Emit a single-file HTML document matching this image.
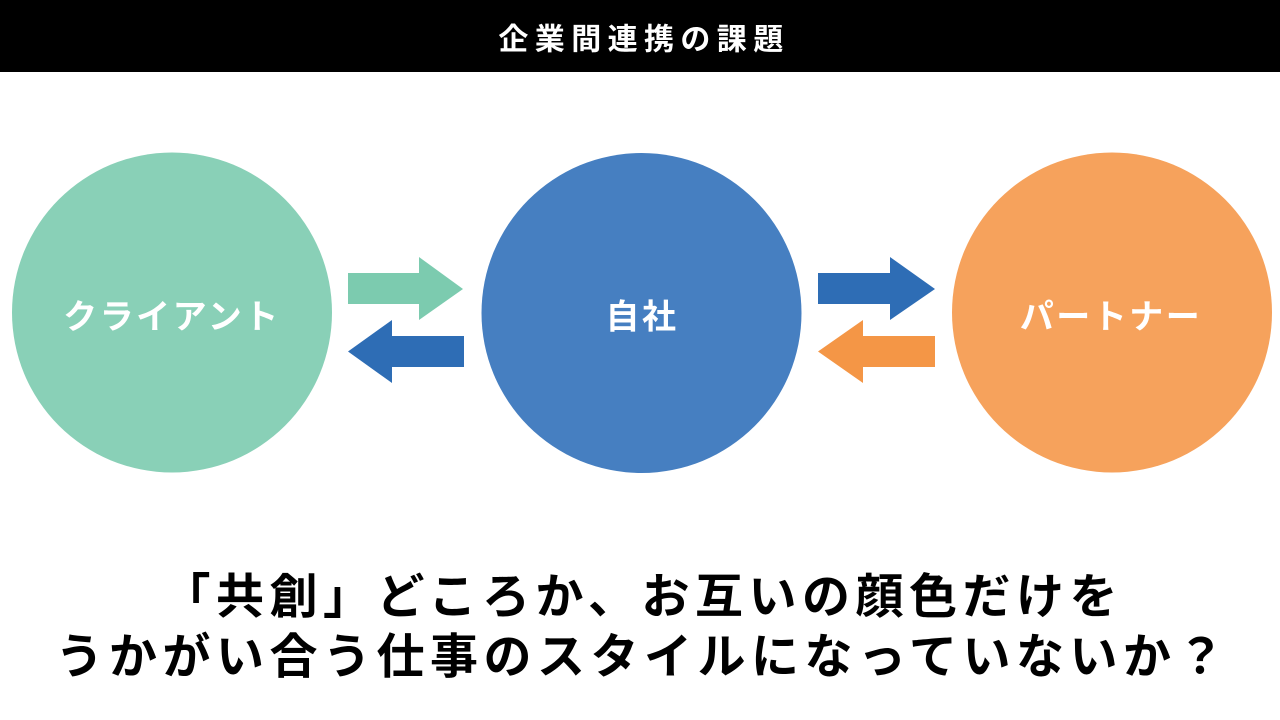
<!DOCTYPE html>
<html lang="ja">
<head>
<meta charset="utf-8">
<style>
  html,body{margin:0;padding:0;background:#fff;}
  body{width:1280px;height:720px;overflow:hidden;position:relative;}
  svg{position:absolute;left:0;top:0;}
  text{font-family:"Liberation Sans","Noto Sans CJK JP",sans-serif;font-weight:700;}
</style>
</head>
<body>
<svg width="1280" height="720" viewBox="0 0 1280 720" xmlns="http://www.w3.org/2000/svg">
  <!-- header -->
  <rect x="0" y="0" width="1280" height="72" fill="#000"/>
  <text x="644" y="49.5" font-size="30" fill="#fff" text-anchor="middle" letter-spacing="6.4">企業間連携の課題</text>

  <!-- circles -->
  <circle cx="172" cy="312.5" r="160" fill="#89d0b7"/>
  <circle cx="641.5" cy="313" r="160" fill="#467fc1"/>
  <circle cx="1112" cy="312.5" r="160" fill="#f6a25c"/>

  <!-- labels -->
  <text x="172" y="328.5" font-size="34" fill="#fff" text-anchor="middle" letter-spacing="2.5">クライアント</text>
  <text x="642" y="328.5" font-size="34" fill="#fff" text-anchor="middle" letter-spacing="2.5">自社</text>
  <text x="1111" y="328.5" font-size="34" fill="#fff" text-anchor="middle" letter-spacing="2.5">パートナー</text>

  <!-- arrows -->
  <polygon points="348,273 419,273 419,257 463,289 419,320 419,304 348,304" fill="#7ccbaf"/>
  <polygon points="348,351.5 392,320 392,336 464,336 464,367 392,367 392,383" fill="#2e6db5"/>
  <polygon points="818,273 890,273 890,257 935,289 890,320 890,304 818,304" fill="#2e6db5"/>
  <polygon points="818,351.5 863,320 863,336 935,336 935,367 863,367 863,383" fill="#f49646"/>

  <!-- bottom message -->
  <text x="642.75" y="613" font-size="48" fill="#000" text-anchor="middle" letter-spacing="5.5">「共創」どころか、お互いの顔色だけを</text>
  <text x="642.75" y="673" font-size="48" fill="#000" text-anchor="middle" letter-spacing="5.5">うかがい合う仕事のスタイルになっていないか？</text>
</svg>
</body>
</html>
